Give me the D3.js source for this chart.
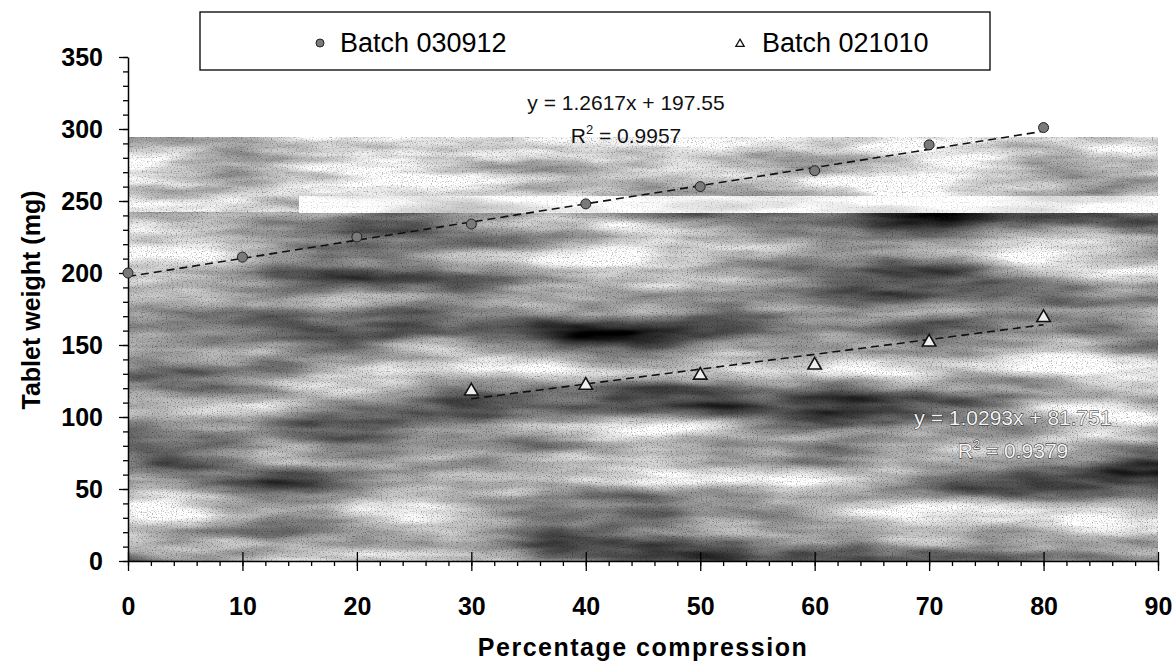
<!DOCTYPE html>
<html>
<head>
<meta charset="utf-8">
<script src="https://cdn.jsdelivr.net/npm/d3@7"></script>
<style>
  body { margin: 0; background: #fff; }
  svg { display: block; font-family: "Liberation Sans", Arial, sans-serif; }
</style>
</head>
<body>
<svg></svg>
<script>
// data
let compression = [0, 10, 20, 30, 40, 50, 60, 70, 80];
let batch030912 = [200, 211, 225, 234, 248, 260, 271, 289, 301];
let compression2 = [30, 40, 50, 60, 70, 80];
let batch021010 = [118, 122, 129, 136, 152, 169];
let seriesNames = ["Batch 030912", "Batch 021010"];
// trendline coefficients as printed on the chart
let trend1 = [1.2617, 197.55, 0.9957];
let trend2 = [1.0293, 81.751, 0.9379];
let xTickValues = [0, 10, 20, 30, 40, 50, 60, 70, 80, 90];
let yTickValues = [0, 50, 100, 150, 200, 250, 300, 350];

let svgWidth = 1175;
let svgHeight = 668;
let plotLeft = 128, plotRight = 1158, plotTop = 57, plotBottom = 561;

var svg = d3.select("svg")
    .attr("width", svgWidth)
    .attr("height", svgHeight);

let xScale = d3.scaleLinear().domain([0, 90]).range([plotLeft, plotRight]);
let yScale = d3.scaleLinear().domain([0, 350]).range([plotBottom, plotTop]);

// scanned background texture
let defs = svg.append("defs");
function noiseFilter(id, gain, offset, seed, freq, grain) {
  let f = defs.append("filter").attr("id", id)
      .attr("x", 0).attr("y", 0).attr("width", 1).attr("height", 1)
      .attr("color-interpolation-filters", "sRGB");
  f.append("feTurbulence").attr("type", "fractalNoise")
      .attr("baseFrequency", freq).attr("numOctaves", 4).attr("seed", seed).attr("result", "t");
  let row = `${gain} 0 0 0 ${offset}`;
  f.append("feColorMatrix").attr("in", "t").attr("type", "matrix")
      .attr("values", `${row} ${row} ${row} 0 0 0 0 1`).attr("result", "m");
  f.append("feTurbulence").attr("type", "fractalNoise")
      .attr("baseFrequency", "0.8").attr("numOctaves", 1).attr("seed", seed + 5).attr("result", "t2");
  let grow = `${grain} 0 0 0 ${1.05 - grain * 0.5}`;
  f.append("feColorMatrix").attr("in", "t2").attr("type", "matrix")
      .attr("values", `${grow} ${grow} ${grow} 0 0 0 0 1`).attr("result", "g");
  f.append("feBlend").attr("in", "m").attr("in2", "g").attr("mode", "multiply");
}
noiseFilter("texLow", 1.5, -0.15, 3, "0.004 0.026", 1.4);
noiseFilter("texHigh", 1.1, 0.28, 7, "0.006 0.04", 1.3);
noiseFilter("texBand", 0.6, 0.68, 11, "0.006 0.04", 0.8);

let bg = svg.append("g");
bg.append("rect")
    .attr("x", xScale(0) + 1).attr("y", yScale(243))
    .attr("width", xScale(90) - xScale(0) - 1).attr("height", yScale(0) - yScale(243))
    .attr("filter", "url(#texLow)");
bg.append("rect")
    .attr("x", xScale(0) + 1).attr("y", yScale(294))
    .attr("width", xScale(90) - xScale(0) - 1).attr("height", yScale(243) - yScale(294))
    .attr("filter", "url(#texHigh)");
bg.append("rect")
    .attr("x", xScale(15)).attr("y", yScale(253))
    .attr("width", xScale(90) - xScale(15)).attr("height", yScale(242) - yScale(253))
    .attr("filter", "url(#texBand)");

// axes
let xMinor = d3.axisBottom(xScale).tickValues(d3.range(0, 91, 2)).tickSize(5).tickFormat("");
let yMinor = d3.axisLeft(yScale).tickValues(d3.range(0, 351, 10)).tickSize(5).tickFormat("");
svg.append("g").attr("transform", `translate(0, ${plotBottom})`).call(xMinor)
    .call(g => g.select(".domain").remove());
svg.append("g").attr("transform", `translate(${plotLeft}, 0)`).call(yMinor)
    .call(g => g.select(".domain").remove());

let xAxis = d3.axisBottom(xScale).tickValues(xTickValues).tickSize(10).tickSizeOuter(0).tickPadding(26);
let yAxis = d3.axisLeft(yScale).tickValues(yTickValues).tickSize(9).tickSizeOuter(0).tickPadding(16);

svg.append("g")
    .attr("transform", `translate(0, ${plotBottom})`)
    .call(xAxis)
    .call(g => g.selectAll(".tick line").attr("y1", -9))
    .call(g => g.selectAll("text").attr("font-size", 25).attr("font-weight", "bold")
        .attr("font-family", "Liberation Sans, Arial, sans-serif").attr("fill", "#000"));

svg.append("g")
    .attr("transform", `translate(${plotLeft}, 0)`)
    .call(yAxis)
    .call(g => g.selectAll("text").attr("font-size", 25).attr("font-weight", "bold")
        .attr("font-family", "Liberation Sans, Arial, sans-serif").attr("fill", "#000"));

svg.selectAll(".domain").attr("stroke", "#000").attr("stroke-width", 1.5);
svg.selectAll(".tick line").attr("stroke", "#000").attr("stroke-width", 1.3);

// trendlines
function trendLine(coef, x0, x1) {
  let pts = [x0, x1].map(x => [xScale(x), yScale(coef[0] * x + coef[1])]);
  svg.append("path")
      .attr("d", d3.line()(pts))
      .attr("fill", "none")
      .attr("stroke", "#111")
      .attr("stroke-width", 1.6)
      .attr("stroke-dasharray", "8,5");
}
trendLine(trend1, d3.min(compression), d3.max(compression));
trendLine(trend2, d3.min(compression2), d3.max(compression2));

// markers
svg.append("g").selectAll("circle")
    .data(compression)
    .enter()
    .append("circle")
      .attr("cx", d => xScale(d))
      .attr("cy", (d, i) => yScale(batch030912[i]))
      .attr("r", 5)
      .attr("fill", "#7a7a7a")
      .attr("stroke", "#222")
      .attr("stroke-width", 1);

let tri = d3.symbol().type(d3.symbolTriangle).size(78);
svg.append("g").selectAll("path")
    .data(compression2)
    .enter()
    .append("path")
      .attr("d", tri)
      .attr("transform", (d, i) => `translate(${xScale(d)}, ${yScale(batch021010[i])})`)
      .attr("fill", "#eee")
      .attr("stroke", "#111")
      .attr("stroke-width", 1.6);

// trend equations
function equation(coef, cx, y) {
  let g = svg.append("g").attr("font-size", 21).attr("text-anchor", "middle");
  g.append("text").attr("x", cx).attr("y", y)
      .text(`y = ${coef[0]}x + ${coef[1]}`);
  let r = g.append("text").attr("x", cx).attr("y", y + 33);
  r.append("tspan").text("R");
  r.append("tspan").attr("font-size", 13).attr("dy", -9).text("2");
  r.append("tspan").attr("dy", 9).text(` = ${coef[2]}`);
  return g;
}
equation(trend1, 626, 110).attr("fill", "#111");
equation(trend2, 1013, 425).attr("fill", "#f4f4f4").attr("stroke", "#1a1a1a").attr("stroke-width", 0.9)
    .attr("paint-order", "stroke");

// legend
let legend = svg.append("g");
legend.append("rect")
    .attr("x", 200).attr("y", 12)
    .attr("width", 790).attr("height", 58)
    .attr("fill", "#fff").attr("stroke", "#000").attr("stroke-width", 1.3);
legend.append("circle")
    .attr("cx", 320).attr("cy", 43).attr("r", 4)
    .attr("fill", "#7a7a7a").attr("stroke", "#222");
legend.append("text")
    .text(seriesNames[0])
    .attr("x", 340).attr("y", 52)
    .attr("font-size", 27);
legend.append("path")
    .attr("d", d3.symbol().type(d3.symbolTriangle).size(30))
    .attr("transform", "translate(740, 44)")
    .attr("fill", "#fff").attr("stroke", "#111").attr("stroke-width", 1.3);
legend.append("text")
    .text(seriesNames[1])
    .attr("x", 762).attr("y", 52)
    .attr("font-size", 27);

// Axes labels
svg.append("text")
    .text("Percentage compression")
    .attr("x", (plotLeft + plotRight) / 2)
    .attr("y", 656)
    .attr("font-size", 25)
    .attr("font-weight", "bold")
    .attr("letter-spacing", 1.5)
    .attr("text-anchor", "middle");

svg.append("text")
    .text("Tablet weight (mg)")
    .attr("transform", "rotate(-90)")
    .attr("x", -300)
    .attr("y", 40)
    .attr("font-size", 25)
    .attr("font-weight", "bold")
    .attr("text-anchor", "middle");
</script>
</body>
</html>
